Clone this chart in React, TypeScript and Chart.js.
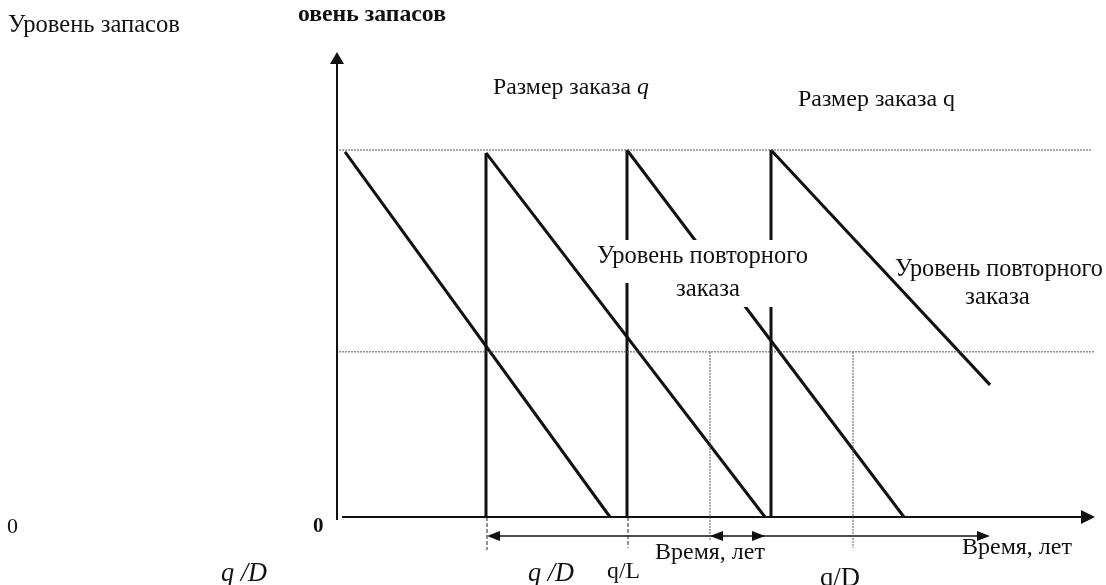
import React, { useEffect, useRef } from "react";
import { Chart, registerables } from "chart.js";
Chart.register(...registerables);

const W = 1106;
const H = 585;

// Inventory level in units (order size q = 100), time in units along the horizontal axis
const maxLevel = 100;
const reorderLevel = 45;
const cycleStartT = [0.3, 14.4, 28.5, 42.9];
const cycleStartLevel = [99.5, 99.2, 100, 100];
const cycleEndT = [26.8, 42.3, 56.2, 64.8];
const cycleEndLevel = [0, 0, 0, 36];
const orderT = [14.4, 28.5, 42.9];
const orderTopLevel = [99.2, 100, 100];
const reorderDropT = [36.8, 51.1];
const reorderDropBottom = [-6.3, -8.4];
const tickT = [14.5, 28.6];
const tickBottom = [-9.0, -8.4];
const spanLevel = -5.2;
const spanStartT = 14.5;
const spanEndT = 64.8;
const spanLeftHeads = [14.5, 36.8];
const spanRightHeads = [42.3, 64.8];
const timeAxisStart = 0;
const timeAxisEnd = 75.3;
const levelAxisT = -0.5;
const levelAxisBottom = -0.8;
const levelAxisTop = 126.7;
const guideStartT = -0.3;
const topGuideEndT = 75.0;
const reorderGuideEndT = 75.3;

// view range of the two scales
const X_MIN = -34.2;
const X_MAX = 76.4;
const Y_MIN = -18.53;
const Y_MAX = 140.87;

const SERIF = '"Liberation Serif", "Times New Roman", serif';

type Part = { t: string; italic?: boolean; bold?: boolean };
type Label = { parts: Part[]; x: number; y: number; w?: number; size?: number };

const labels: Label[] = [
  { parts: [{ t: "Уровень запасов" }], x: 8, y: 26, w: 172 },
  { parts: [{ t: "овень запасов", bold: true }], x: 298, y: 15, w: 148 },
  { parts: [{ t: "Размер заказа " }, { t: "q", italic: true }], x: 493, y: 88, w: 156 },
  { parts: [{ t: "Размер заказа q" }], x: 798, y: 100, w: 157 },
  { parts: [{ t: "Уровень повторного" }], x: 597, y: 257, w: 211 },
  { parts: [{ t: "заказа" }], x: 676, y: 290, w: 64 },
  { parts: [{ t: "Уровень повторного" }], x: 895, y: 270, w: 208 },
  { parts: [{ t: "заказа" }], x: 965, y: 297, w: 65 },
  { parts: [{ t: "0" }], x: 7, y: 527, size: 22 },
  { parts: [{ t: "0", bold: true }], x: 313, y: 527, size: 21 },
  { parts: [{ t: "q /D", italic: true }], x: 221, y: 574, w: 46 },
  { parts: [{ t: "q /D", italic: true }], x: 528, y: 574, w: 46 },
  { parts: [{ t: "q/L" }], x: 607, y: 572, w: 33 },
  { parts: [{ t: "Время, лет" }], x: 655, y: 553, w: 110 },
  { parts: [{ t: "Время, лет" }], x: 962, y: 548, w: 110 },
  { parts: [{ t: "q/D" }], x: 820, y: 579, w: 40 },
];

const whiteBoxes = [
  { x: 587, y: 240, w: 231, h: 43 },
  { x: 665, y: 283, w: 120, h: 24 },
];

function seg(x1: number, y1: number, x2: number, y2: number, opts: any) {
  return {
    type: "scatter",
    data: [
      { x: x1, y: y1 },
      { x: x2, y: y2 },
    ],
    showLine: true,
    pointRadius: 0,
    borderColor: "#111",
    borderWidth: 3,
    borderCapStyle: "butt",
    ...opts,
  };
}

function fontOf(p: Part, size: number) {
  return `${p.italic ? "italic " : ""}${p.bold ? "bold " : ""}${size}px ${SERIF}`;
}

const overlay = {
  id: "overlay",
  afterDatasetsDraw(chart: any) {
    const ctx = chart.ctx as CanvasRenderingContext2D;
    const xs = chart.scales.x;
    const ys = chart.scales.y;
    const px = (t: number) => xs.getPixelForValue(t);
    const py = (l: number) => ys.getPixelForValue(l);

    const head = (tx: number, ty: number, dx: number, dy: number, len: number, half: number) => {
      ctx.save();
      ctx.fillStyle = "#111";
      ctx.beginPath();
      ctx.moveTo(tx, ty);
      const bx = tx - dx * len;
      const by = ty - dy * len;
      ctx.lineTo(bx - dy * half, by + dx * half);
      ctx.lineTo(bx + dy * half, by - dx * half);
      ctx.closePath();
      ctx.fill();
      ctx.restore();
    };

    // axis arrowheads
    head(px(levelAxisT), py(levelAxisTop), 0, -1, 12, 7);
    head(px(timeAxisEnd), py(0), 1, 0, 14, 7);
    // time span arrowheads
    spanLeftHeads.forEach((t) => head(px(t), py(spanLevel), -1, 0, 13, 5));
    spanRightHeads.forEach((t) => head(px(t), py(spanLevel), 1, 0, 13, 5));

    // white label boxes covering lines
    ctx.save();
    ctx.fillStyle = "#fff";
    whiteBoxes.forEach((b) => ctx.fillRect(b.x, b.y, b.w, b.h));
    ctx.restore();

    // labels
    ctx.save();
    ctx.fillStyle = "#111";
    ctx.textBaseline = "middle";
    ctx.textAlign = "left";
    labels.forEach((lb) => {
      let size = lb.size || 20;
      if (lb.w) {
        const base = 20;
        let total = 0;
        lb.parts.forEach((p) => {
          ctx.font = fontOf(p, base);
          total += ctx.measureText(p.t).width;
        });
        size = (base * lb.w) / total;
      }
      let x = lb.x;
      lb.parts.forEach((p) => {
        ctx.font = fontOf(p, size);
        ctx.fillText(p.t, x, lb.y);
        x += ctx.measureText(p.t).width;
      });
    });
    ctx.restore();
  },
};

export default function App() {
  const ref = useRef<HTMLCanvasElement | null>(null);

  useEffect(() => {
    const canvas = ref.current;
    if (!canvas) return;

    const dotted = { borderColor: "#555", borderWidth: 1, borderDash: [2, 1] };
    const dashedTick = { borderColor: "#222", borderWidth: 1, borderDash: [4, 2] };

    const datasets: any[] = [];
    // guide lines
    datasets.push(seg(guideStartT, maxLevel, topGuideEndT, maxLevel, dotted));
    datasets.push(seg(guideStartT, reorderLevel, reorderGuideEndT, reorderLevel, dotted));
    reorderDropT.forEach((t, i) => datasets.push(seg(t, reorderLevel, t, reorderDropBottom[i], dotted)));
    tickT.forEach((t, i) => datasets.push(seg(t, 0, t, tickBottom[i], dashedTick)));
    // axes
    datasets.push(seg(levelAxisT, levelAxisBottom, levelAxisT, levelAxisTop - 2.5, { borderWidth: 2 }));
    datasets.push(seg(timeAxisStart, 0, timeAxisEnd - 1.0, 0, { borderWidth: 2 }));
    // time span line
    datasets.push(seg(spanStartT + 1, spanLevel, spanEndT - 1, spanLevel, { borderWidth: 1.5 }));
    // replenishment verticals
    orderT.forEach((t, i) => datasets.push(seg(t, 0, t, orderTopLevel[i], { borderWidth: 3 })));
    // depletion lines
    cycleStartT.forEach((t, i) =>
      datasets.push(seg(t, cycleStartLevel[i], cycleEndT[i], cycleEndLevel[i], { borderWidth: 3 }))
    );

    const chart = new Chart(canvas, {
      type: "scatter",
      data: { datasets },
      options: {
        animation: false,
        responsive: false,
        devicePixelRatio: 1,
        layout: { padding: 0 },
        plugins: { legend: { display: false }, tooltip: { enabled: false } },
        events: [],
        scales: {
          x: { type: "linear", min: X_MIN, max: X_MAX, display: false },
          y: { type: "linear", min: Y_MIN, max: Y_MAX, display: false },
        },
      } as any,
      plugins: [overlay],
    } as any);

    return () => chart.destroy();
  }, []);

  return (
    <div style={{ position: "fixed", left: 0, top: 0, width: W, height: H, background: "#fff" }}>
      <canvas ref={ref} width={W} height={H} style={{ width: W, height: H, display: "block" }} />
    </div>
  );
}
